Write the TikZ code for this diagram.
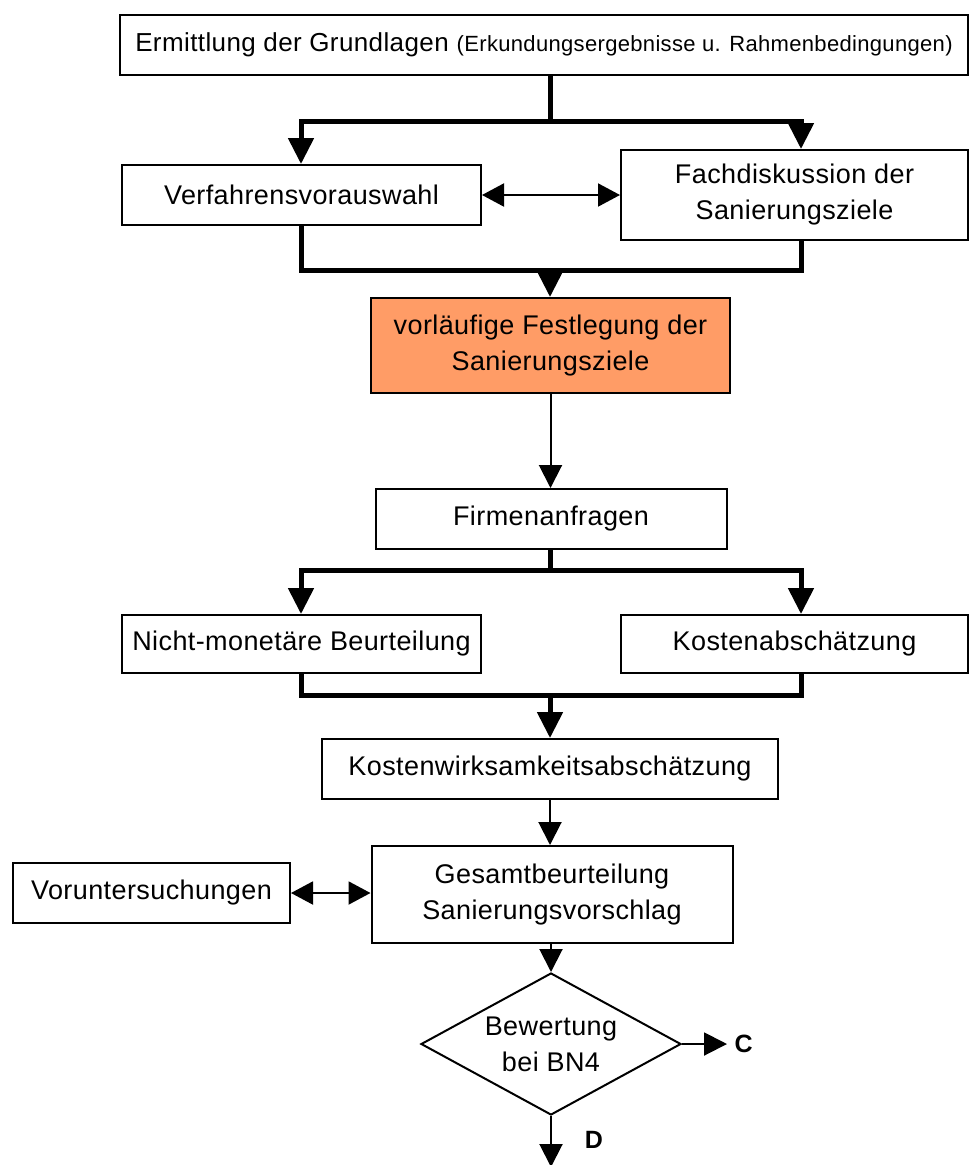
\documentclass[tikz,border=0pt]{standalone}
\usepackage{fontspec}
\setmainfont{Liberation Sans}[LetterSpace=1.5]
\usetikzlibrary{arrows.meta,shapes.geometric}
\definecolor{orangefill}{RGB}{255,156,102}
\begin{document}
\begin{tikzpicture}[x=1pt,y=-1pt,
  every node/.style={font=\fontsize{27}{36}\selectfont},
  box/.style={draw,line width=2pt,rectangle,inner sep=0pt,align=center},
  bus/.style={line width=5pt,line join=miter},
  tipA/.style={-{Triangle[width=25pt,length=26pt]}},
  thinarrow/.style={line width=2pt,-{Triangle[width=23pt,length=23pt]}},
  dblarrow/.style={line width=2pt,{Triangle[width=23pt,length=22pt]}-{Triangle[width=23pt,length=22pt]}},
  lbl/.style={font=\fontsize{25}{28}\bfseries\selectfont}]
\useasboundingbox (0,0) rectangle (970,1165);
\fill[white] (0,0) rectangle (970,1165);
% nodes
\node[box,minimum width=848pt,minimum height=60pt] (top) at (544,45)
  {{\fontsize{26}{30}\selectfont Ermittlung der Grundlagen} {\fontsize{22}{26}\selectfont(Erkundungsergebnisse u. Rahmenbedingungen)}};
\node[box,minimum width=359pt,minimum height=60pt] (verf) at (301.5,195) {Verfahrensvorauswahl};
\node[box,minimum width=347pt,minimum height=90pt] (fach) at (794.5,195) {Fachdiskussion der\\Sanierungsziele};
\node[box,fill=orangefill,minimum width=359pt,minimum height=95pt] (vorl) at (550.5,345.5) {vorläufige Festlegung der\\Sanierungsziele};
\node[box,minimum width=351pt,minimum height=60pt] (firm) at (551,519) {Firmenanfragen};
\node[box,minimum width=359pt,minimum height=58pt] (nicht) at (301.5,644) {Nicht-monetäre Beurteilung};
\node[box,minimum width=347pt,minimum height=58pt] (kost) at (794.5,644) {Kostenabschätzung};
\node[box,minimum width=456pt,minimum height=60pt] (wirk) at (550,769) {Kostenwirksamkeitsabschätzung};
\node[box,minimum width=361pt,minimum height=97pt] (ges) at (552,894.5) {Gesamtbeurteilung\\Sanierungsvorschlag};
\node[box,minimum width=277pt,minimum height=60pt] (vor) at (151.5,893) {Voruntersuchungen};
\node[draw,line width=2pt,diamond,inner sep=0pt,minimum width=260pt,minimum height=142pt,shape aspect=1.83] (dia) at (551,1044) {};
\node[align=center] (diat) at (dia.center) {Bewertung\\bei BN4};
% coordinates
\coordinate (b1C) at (550,121);
\coordinate (b1L) at (301,121);
\coordinate (b1R) at (801,121);
\coordinate (b2C) at (550,270);
\coordinate (b2R) at (801,270);
\coordinate (b3C) at (550,570);
\coordinate (b3R) at (801,570);
\coordinate (b4C) at (550,695);
\coordinate (b4R) at (801,695);
\coordinate (cEnd) at (727,1044);
\coordinate (dEnd) at (551,1167);
% connectors
\draw[bus] (top.south -| b1C) -- (b1C);
\draw[bus,tipA] (b1C) -| (verf.north -| b1L);
\draw[bus,tipA] (b1C) -| (fach.north -| b1R);
\draw[dblarrow] (verf.east) -- (verf.east -| fach.west);
\draw[bus] (verf.south -| b1L) |- (b2R) -- (fach.south -| b2R);
\draw[bus,tipA] (b2C) -- (vorl.north -| b2C);
\draw[thinarrow] (vorl.south) -- (firm.north -| vorl.south);
\draw[bus] (firm.south -| b3C) -- (b3C);
\draw[bus,tipA] (b3C) -| (nicht.north -| b1L);
\draw[bus,tipA] (b3C) -| (kost.north -| b3R);
\draw[bus] (nicht.south -| b1L) |- (b4R) -- (kost.south -| b4R);
\draw[bus,tipA] (b4C) -- (wirk.north -| b4C);
\draw[thinarrow] (wirk.south) -- (ges.north -| wirk.south);
\draw[dblarrow] (vor.east) -- (vor.east -| ges.west);
\draw[thinarrow] (ges.south -| dia.north) -- (dia.north);
\draw[thinarrow] (dia.east) -- (cEnd);
\draw[thinarrow] (dia.south) -- (dEnd);
\node[lbl,anchor=west] (C) at (731,1044) {C};
\node[lbl] (D) at (594,1140) {D};
\end{tikzpicture}
\end{document}
